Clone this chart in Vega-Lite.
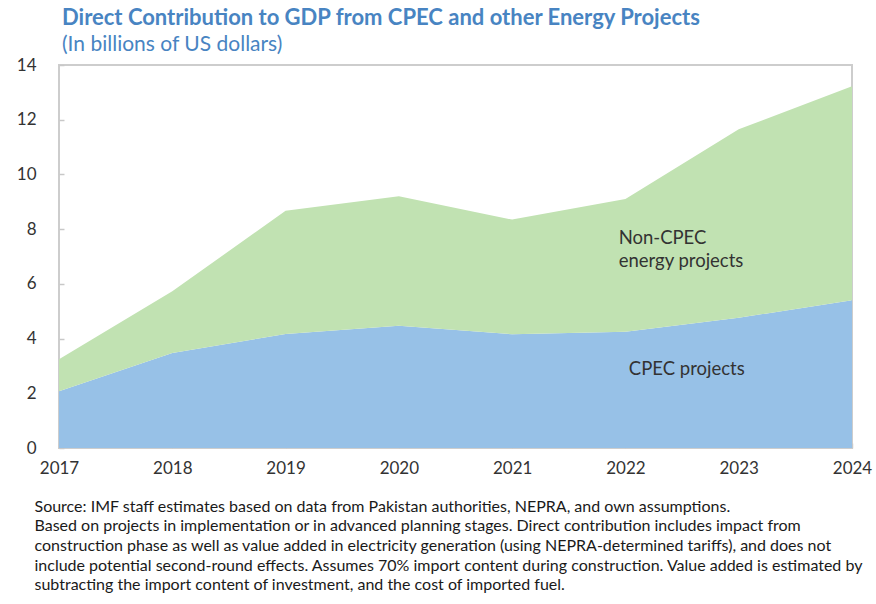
{
  "$schema": "https://vega.github.io/schema/vega-lite/v6.json",
  "width": 793,
  "height": 383,
  "autosize": {"type": "none"},
  "padding": {"left": 59, "top": 65, "right": 24, "bottom": 156},
  "background": "white",
  "config": {
    "font": "Lato",
    "view": {"stroke": "#cdcdcd", "strokeWidth": 2},
    "axis": {"grid": false, "domain": false, "labelFont": "Lato", "labelFontSize": 17, "labelColor": "#333333", "tickColor": "#c8c8c8", "tickSize": -5, "tickWidth": 1.5, "zindex": 1, "labelFlush": false}
  },
  "title": {
    "text": "Direct Contribution to GDP from CPEC and other Energy Projects",
    "subtitle": "(In billions of US dollars)",
    "anchor": "start",
    "frame": "group",
    "dx": 3,
    "offset": 0,
    "font": "Lato",
    "fontSize": 22,
    "fontWeight": "bold",
    "color": "#4884C2",
    "subtitleFont": "Lato",
    "subtitleFontSize": 21,
    "subtitleColor": "#4884C2",
    "subtitlePadding": 4
  },
  "datasets": {
    "areas": [
      {"year": 2017, "series": "CPEC projects", "order": 1, "value": 2.07},
      {"year": 2018, "series": "CPEC projects", "order": 1, "value": 3.47},
      {"year": 2019, "series": "CPEC projects", "order": 1, "value": 4.17},
      {"year": 2020, "series": "CPEC projects", "order": 1, "value": 4.47},
      {"year": 2021, "series": "CPEC projects", "order": 1, "value": 4.16},
      {"year": 2022, "series": "CPEC projects", "order": 1, "value": 4.25},
      {"year": 2023, "series": "CPEC projects", "order": 1, "value": 4.76},
      {"year": 2024, "series": "CPEC projects", "order": 1, "value": 5.4},
      {"year": 2017, "series": "Non-CPEC energy projects", "order": 2, "value": 1.17},
      {"year": 2018, "series": "Non-CPEC energy projects", "order": 2, "value": 2.26},
      {"year": 2019, "series": "Non-CPEC energy projects", "order": 2, "value": 4.5},
      {"year": 2020, "series": "Non-CPEC energy projects", "order": 2, "value": 4.73},
      {"year": 2021, "series": "Non-CPEC energy projects", "order": 2, "value": 4.19},
      {"year": 2022, "series": "Non-CPEC energy projects", "order": 2, "value": 4.85},
      {"year": 2023, "series": "Non-CPEC energy projects", "order": 2, "value": 6.89},
      {"year": 2024, "series": "Non-CPEC energy projects", "order": 2, "value": 7.82}
    ],
    "labels": [
      {"year": 2021.94, "value": 7.67, "label": ["Non-CPEC", "energy projects"]},
      {"year": 2022.03, "value": 2.9, "label": ["CPEC projects"]}
    ]
  },
  "layer": [
    {
      "data": {"name": "areas"},
      "mark": {"type": "area", "opacity": 1},
      "encoding": {
        "x": {
          "field": "year",
          "type": "quantitative",
          "scale": {"domain": [2017, 2024], "nice": false, "zero": false},
          "axis": {
            "values": [2017, 2018, 2019, 2020, 2021, 2022, 2023, 2024],
            "format": "d",
            "labelPadding": 17,
            "title": [
              "Source: IMF staff estimates based on data from Pakistan authorities, NEPRA, and own assumptions.",
              "Based on projects in implementation or in advanced planning stages. Direct contribution includes impact from",
              "construction phase as well as value added in electricity generation (using NEPRA-determined tariffs), and does not",
              "include potential  second-round effects. Assumes 70% import content during construction. Value added is estimated by",
              "subtracting the import content of investment, and the cost of imported fuel."
            ],
            "titleFont": "Lato",
            "titleFontSize": 16,
            "titleFontWeight": "normal",
            "titleColor": "#1a1a1a",
            "titleAnchor": "start",
            "titleAlign": "left",
            "titleBaseline": "alphabetic",
            "titleX": -25,
            "titleY": 63,
            "titleLineHeight": 19.7
          }
        },
        "y": {
          "field": "value",
          "type": "quantitative",
          "stack": "zero",
          "scale": {"domain": [0, 14], "nice": false},
          "axis": {"values": [0, 2, 4, 6, 8, 10, 12, 14], "labelPadding": 28, "title": null}
        },
        "color": {
          "field": "series",
          "type": "nominal",
          "scale": {"domain": ["CPEC projects", "Non-CPEC energy projects"], "range": ["#97C1E7", "#C1E2B2"]},
          "legend": null
        },
        "order": {"field": "order", "type": "quantitative"}
      }
    },
    {
      "data": {"name": "labels"},
      "mark": {"type": "text", "align": "left", "baseline": "middle", "font": "Lato", "fontSize": 18.5, "color": "#333333", "lineHeight": 23},
      "encoding": {
        "x": {"field": "year", "type": "quantitative"},
        "y": {"field": "value", "type": "quantitative"},
        "text": {"field": "label"}
      }
    }
  ]
}
